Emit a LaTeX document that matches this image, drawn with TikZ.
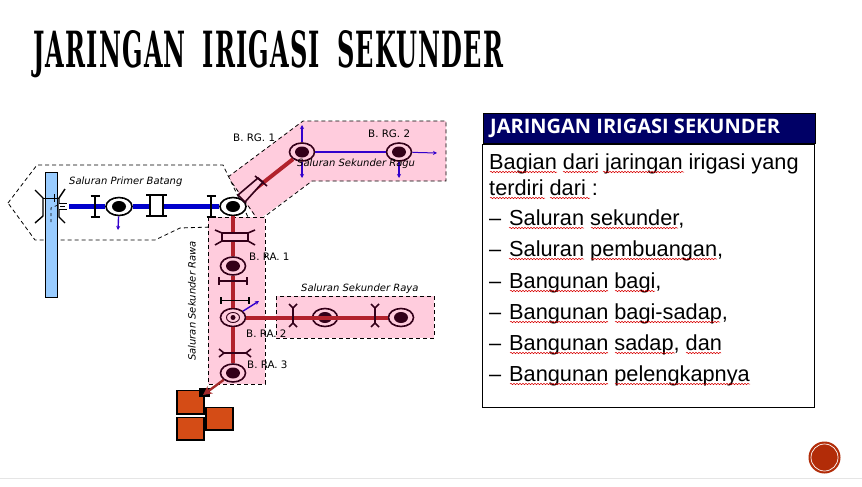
\documentclass[tikz,border=0pt]{standalone}
\usepackage{fontspec}
\setmainfont{Liberation Sans}
\newfontfamily\djv{DejaVu Sans}
\newfontfamily\slab[LetterSpace=5]{DejaVu Serif}
\newfontfamily\hdf{Open Sans}
\usetikzlibrary{shapes.geometric,arrows.meta,decorations.pathmorphing}
\definecolor{pinkz}{RGB}{255,204,221}
\definecolor{dk}{RGB}{51,0,25}
\definecolor{redl}{RGB}{178,34,44}
\definecolor{bluel}{RGB}{0,0,204}
\definecolor{purp}{RGB}{51,0,204}
\definecolor{canal}{RGB}{153,204,255}
\definecolor{orng}{RGB}{212,76,22}
\definecolor{navyh}{RGB}{0,0,102}
\definecolor{redc}{RGB}{178,44,8}
\definecolor{brownr}{RGB}{165,42,42}
\tikzset{x=1pt,y=-1pt,
 zone/.style={draw=black,line width=0.8pt,dash pattern=on 4pt off 3pt},
 lbl/.style={inner sep=0,font=\djv\fontsize{10.3}{12}\selectfont},
 ilbl/.style={inner sep=0,font=\djv\itshape\fontsize{10}{12}\selectfont},
 nodew/.style={ellipse,draw=black,line width=1.6pt,fill=white,minimum width=26pt,minimum height=18pt,inner sep=0},
 nodep/.style={ellipse,draw=dk,line width=1.6pt,fill=pinkz,minimum width=25pt,minimum height=18pt,inner sep=0},
 core/.style={ellipse,fill=#1,minimum width=14pt,minimum height=11pt,inner sep=0},
 gate/.style={draw=black,line width=1.6pt},
 gated/.style={draw=dk,line width=1.6pt},
 bar/.style={line width=5pt,bluel},
 redbar/.style={line width=4pt,redl},
 twig/.style={purp,line width=1.4pt,-{Stealth[length=4pt,width=4pt]}},
 sq/.style={draw=black,line width=1.2pt,fill=orng},
 wav/.style={red!85!black,line width=0.5pt,decorate,decoration={snake,amplitude=0.7pt,segment length=3pt}},
 body/.style={anchor=base west,inner sep=0,font=\fontsize{21.75}{26}\selectfont}
}
\begin{document}
\begin{tikzpicture}
\useasboundingbox (0,0) rectangle (862,487);
\fill[white] (0,0) rectangle (862,487);
\draw[gray!20,line width=1pt] (0,478) -- (862,478);
% title
\node[anchor=base west,inner sep=0] (title) at (33,67) {\resizebox{470pt}{37pt}{\slab\bfseries JARINGAN\hspace{0.7em}IRIGASI\hspace{0.7em}SEKUNDER}};
% zones
\path[fill=pinkz] (303,121) -- (446,121) -- (446,181) -- (312,181) -- (262,217) -- (255,217) -- (228,177) -- cycle;
\draw[zone] (228,177) -- (303,121) -- (446,121) -- (446,181) -- (312,181) -- (264,217);
\draw[zone] (228,177) -- (256,217);
\draw[zone,fill=white] (8,203) -- (37,165) -- (223,165) -- (248,217) -- (243,226) -- (180,228) -- (155,240) -- (35,240) -- cycle;
\draw[zone,fill=pinkz] (208,217) rectangle (265,384);
\draw[zone,fill=pinkz] (276,296) rectangle (434,338);
% canal
\draw[black,fill=canal,line width=0.8pt] (45.5,172) rectangle (57.5,297);
\draw[gate,line width=1.4pt] (35,190) -- (43,198) -- (43,216) -- (35,223);
\draw[gate,line width=1.4pt] (65,189) -- (59,198) -- (59,217) -- (65,223);
\draw[black,line width=1pt] (43,198) -- (59,198);
\draw[black,line width=0.7pt] (54,194) -- (54,202);
\draw[black,line width=0.7pt,dashed] (51,222) -- (51,208) -- (58,205);
\fill[white] (59,203) rectangle (67,209);
\draw[black,line width=1pt] (59,203) -- (67,203) (59,209.5) -- (67,209.5);
\draw[black,line width=0.7pt] (60,206.5) -- (65,206.5);
% water nodes
\node[nodew] (b1) at (119,206.5) {};
\node[nodew] (n0) at (233,206.5) {};
\node[nodep] (rg1) at (302,152) {};
\node[nodep] (rg2) at (399,152) {};
\node[nodep] (ra1) at (233,266) {};
\node[nodep] (ra2) at (233,317.5) {};
\node[nodep] (ra3) at (233,373) {};
\node[nodep] (ry1) at (325,317.5) {};
\node[nodep] (ry2) at (401,317.5) {};
\node[core=black] (cb1) at (b1) {};
\node[core=black] (cn0) at (n0) {};
\node[core=dk] (crg1) at (rg1) {};
\node[core=dk] (crg2) at (rg2) {};
\node[core=dk] (cra1) at (ra1) {};
\node[core=dk] (cra3) at (ra3) {};
\node[core=dk] (cry2) at (ry2) {};
\node[core=dk] (cry1) at (ry1) {};
\node[ellipse,draw=dk,line width=0.9pt,minimum width=13pt,minimum height=10pt,inner sep=0] (mra2) at (ra2) {};
\node[core=dk,minimum width=5pt,minimum height=5pt] (cra2) at (ra2) {};
\coordinate (intake) at (69,206.5);
\coordinate (ryup1) at (302,125);
\coordinate (rydn1) at (302,178);
\coordinate (rgr) at (437,153);
\coordinate (rgd) at (399,178);
\coordinate (b1d) at (118,230);
\coordinate (ra2t) at (259,301);
\coordinate (blk) at (203,395);
% connectors
\draw[bar] (intake) -- (b1);
\draw[bar] (b1) -- (n0);
\draw[redbar] (n0) -- (rg1);
\draw[purp,line width=2.5pt] (rg1) -- (rg2);
\draw[twig] (b1) -- (b1d);
\draw[twig] (rg1) -- (ryup1);
\draw[twig] (rg1) -- (rydn1);
\draw[twig] (rg2) -- (rgd);
\draw[twig,line width=1pt] (rg2) -- (rgr);
\draw[redbar] (n0) -- (ra1);
\draw[redbar] (ra1) -- (ra2);
\draw[redbar] (ra2) -- (ra3);
\draw[redbar] (ra2) -- (ry2);
\draw[twig] (ra2) -- (ra2t);
% gates
\draw[gate] (95,196) -- (95,217) (90.5,196) -- (99.5,196) (90.5,217) -- (99.5,217);
\draw[gate,fill=white] (150,195) rectangle (163,216);
\draw[gate] (146,195) -- (167,195) (146,216) -- (167,216);
\draw[gate] (211,196) -- (211,217) (206.5,196) -- (215.5,196) (206.5,217) -- (215.5,217);
\draw[gated,fill=pinkz] (238,195) -- (258,178) -- (263,182) -- (245,202) -- cycle;
\draw[gated] (255,176) -- (267,186);
\draw[gated,fill=pinkz] (222,233) rectangle (248,241);
\draw[gated] (215,230) -- (222,233) (215,245) -- (222,241) (255,230) -- (248,233) (255,245) -- (248,241);
\draw[gated] (219,281) -- (247,281) (219,277) -- (219,285) (247,277) -- (247,285);
\draw[gate] (221,300.5) -- (249,300.5) (221,297) -- (221,304) (249,297) -- (249,304);
\draw[gated] (224,353) -- (246,353) (219,349) -- (224,353) -- (219,357) (251,349) -- (246,353) -- (251,357);
\draw[gated] (289,304) -- (293,308) -- (297,304) (293,308) -- (293,323) (289,327) -- (293,323) -- (297,327);
\draw[gated] (371,304) -- (375,308) -- (379,304) (375,308) -- (375,323) (371,327) -- (375,323) -- (379,327);
% squares
\draw[sq] (177,390.5) rectangle (204,414);
\fill[black] (199,388) rectangle (209.5,397);
\draw[brownr,line width=2.4pt,-{Stealth[length=9pt,width=9pt]}] (ra3) -- (blk);
\draw[sq] (206,407.5) rectangle (233,430);
\draw[sq] (177,417.5) rectangle (204,440);
% labels
\node[ilbl,anchor=west] (t1) at (69,182) {Saluran Primer Batang};
\node[ilbl,anchor=west] (t2) at (297,164) {Saluran Sekunder Ragu};
\node[ilbl,anchor=west] (t3) at (301,289) {Saluran Sekunder Raya};
\node[ilbl,rotate=90] (t4) at (192,301) {Saluran Sekunder Rawa};
\node[lbl,anchor=west] (l1) at (233,138) {B. RG. 1};
\node[lbl,anchor=west] (l2) at (368,134) {B. RG. 2};
\node[lbl,anchor=west] (l3) at (249,257) {B. RA. 1};
\node[lbl,anchor=west] (l4) at (246,334) {B. RA. 2};
\node[lbl,anchor=west] (l5) at (247,365) {B. RA. 3};
% right panel
\draw[black,line width=0.8pt,fill=white] (482.5,144) rectangle (814.5,407.5);
\node[draw=black,line width=0.8pt,fill=navyh,text=white,minimum width=332pt,minimum height=30pt,inner sep=0,anchor=north west] (hd) at (483,113) {};
\node[anchor=base west,inner sep=0,text=white,font=\hdf\bfseries\fontsize{20}{24}\selectfont] (hdt) at (490,133.5) {JARINGAN IRIGASI SEKUNDER};
\node[body] (p1) at (489,169) {Bagian dari jaringan irigasi yang};
\node[body] (p2) at (489,195) {terdiri dari :};
\node[body] (p3) at (489,225) {–};
\node[body] (i3) at (509,225) {Saluran sekunder,};
\node[body] (p4) at (489,256) {–};
\node[body] (i4) at (509,256) {Saluran pembuangan,};
\node[body] (p5) at (489,288) {–};
\node[body] (i5) at (509,288) {Bangunan bagi,};
\node[body] (p6) at (489,319) {–};
\node[body] (i6) at (509,319) {Bangunan bagi-sadap,};
\node[body] (p7) at (489,350) {–};
\node[body] (i7) at (509,350) {Bangunan sadap, dan};
\node[body] (p8) at (489,381) {–};
\node[body] (i8) at (509,381) {Bangunan pelengkapnya};
% spelling marks
\draw[wav] (490,172) -- (557,172);
\draw[wav] (563,172) -- (598,172);
\draw[wav] (603,172) -- (684,172);
\draw[wav] (490,198) -- (545,198);
\draw[wav] (550,198) -- (590,198);
\draw[wav] (509,228) -- (584,228);
\draw[wav] (591,228) -- (678,228);
\draw[wav] (509,259) -- (584,259);
\draw[wav] (591,259) -- (717,259);
\draw[wav] (510,291) -- (608,291);
\draw[wav] (615,291) -- (655,291);
\draw[wav] (510,322) -- (608,322);
\draw[wav] (615,322) -- (720,322);
\draw[wav] (510,353) -- (608,353);
\draw[wav] (615,353) -- (675,353);
\draw[wav] (686,353) -- (721,353);
\draw[wav] (510,384) -- (608,384);
\draw[wav] (615,384) -- (750,384);
% badge
\node[circle,fill=redc,minimum size=32pt,inner sep=0] (bd) at (824.5,457.5) {};
\node[circle,draw=white,line width=0.7pt,minimum size=27pt,inner sep=0] (bdr) at (824.5,457.5) {};
\end{tikzpicture}
\end{document}
